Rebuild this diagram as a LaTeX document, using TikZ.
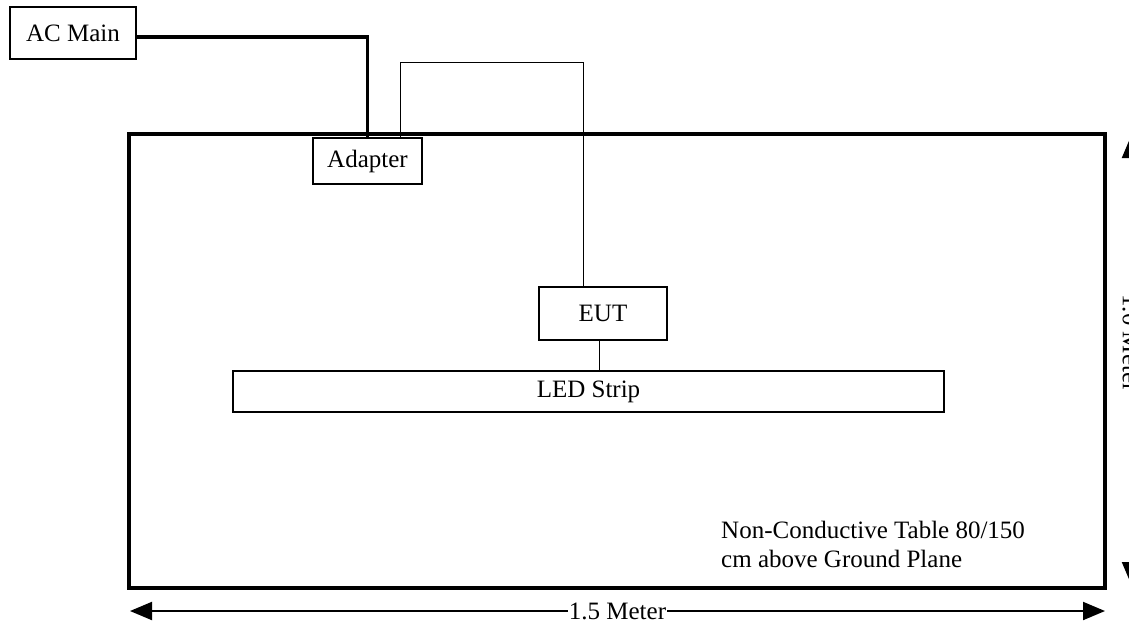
\documentclass[tikz,border=0pt]{standalone}
\usepackage{fontspec}
\setmainfont{Liberation Serif}
\usetikzlibrary{arrows.meta,calc}
\begin{document}
\begin{tikzpicture}[x=1pt,y=-1pt,
  lbl/.style={font=\fontsize{25}{29}\selectfont},
  box/.style={draw,line width=1.3pt,rectangle,inner sep=0pt,lbl},
  thickwire/.style={line width=3.5pt},
  thinwire/.style={line width=1pt},
  dimline/.style={line width=2pt,{Triangle[length=22pt,width=18pt]}-{Triangle[length=22pt,width=18pt]}}]
\useasboundingbox (0,0) rectangle (1129,625);
\clip (0,0) rectangle (1129,625);
% table
\node[draw,line width=3.5pt,rectangle,inner sep=0pt,minimum width=976pt,minimum height=454pt] (table) at (616.75,361) {};
% boxes
\node[box,minimum width=126pt,minimum height=52pt] (acmain) at (73,33) {AC Main};
\node[box,minimum width=109pt,minimum height=46pt,fill=white] (adapter) at (367.5,161) {Adapter};
\node[box,minimum width=128pt,minimum height=53pt] (eut) at (603,313.5) {EUT};
\node[box,minimum width=711pt,minimum height=41pt] (led) at (588.5,391.5) {LED Strip};
% wires
\draw[thickwire] ([yshift=-4pt]acmain.east) -| (adapter.north);
\coordinate (t1) at (583,62);
\draw[thinwire] ([xshift=32.5pt]adapter.north) |- (t1) -- ([xshift=-20pt]eut.north);
\draw[thinwire] ([xshift=-4pt]eut.south) -- ([xshift=-4pt]eut.south |- led.north);
% note
\node[lbl,anchor=north west,align=left,inner sep=0pt] (note) at (721,521) {Non-Conductive Table 80/150\\cm above Ground Plane};
% dimensions
\coordinate (dl) at (130,611);
\coordinate (dr) at (1105,611);
\draw[dimline] (dl) -- (dr) node[midway,fill=white,inner sep=1pt,lbl] (w) {1.5 Meter};
\coordinate (vt) at (1131,136);
\coordinate (vb) at (1131,584);
\draw[dimline] (vt) -- (vb);
\node[lbl,rotate=-90,fill=white,inner sep=1pt] (h) at (1131,343) {1.0 Meter};
\end{tikzpicture}
\end{document}
